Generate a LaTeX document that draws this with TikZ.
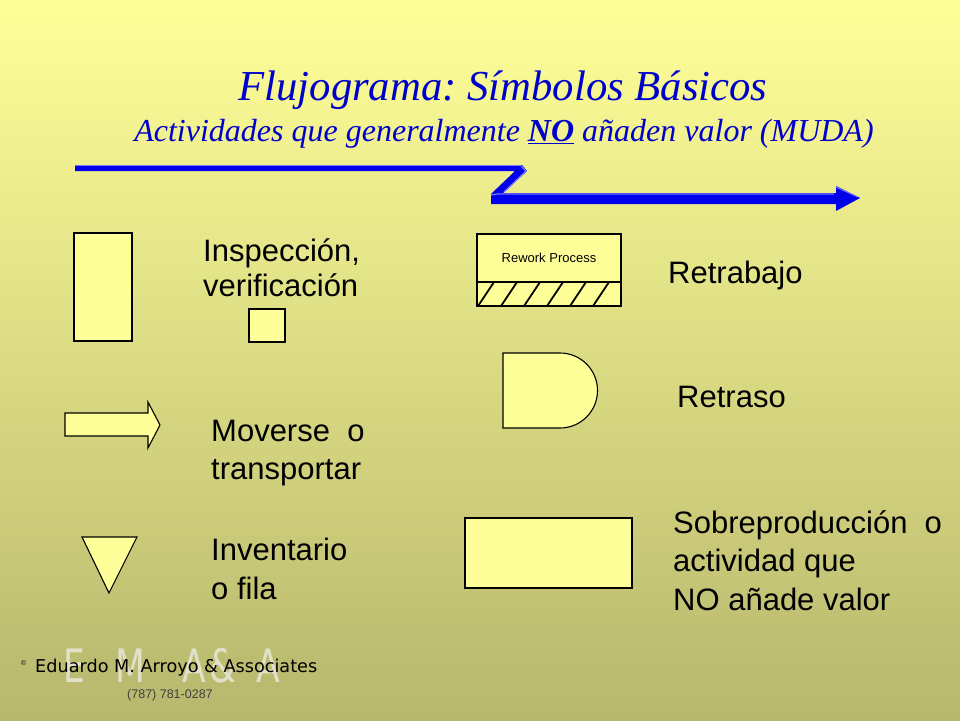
\documentclass[tikz,border=0pt]{standalone}
\usepackage{fontspec}
\setmainfont{Liberation Sans}
\newfontfamily\tnr{Liberation Serif}
\newfontfamily\casual{DejaVu Sans}
\usetikzlibrary{calc}
\definecolor{bgtop}{RGB}{255,255,153}
\definecolor{bgbot}{RGB}{183,183,110}
\definecolor{shapefill}{RGB}{255,255,153}
\definecolor{titleblue}{RGB}{0,0,204}
\definecolor{arrowblue}{RGB}{0,0,235}
\definecolor{arrowlight}{RGB}{120,120,255}
\definecolor{logogrey}{RGB}{232,232,218}
\tikzset{
  sym/.style={draw=black, line width=1.1pt, fill=shapefill, inner sep=0pt},
  lbl/.style={anchor=base west, inner sep=0pt, align=left, text=black,
     font=\fontsize{31}{35}\selectfont},
}
\frenchspacing
\begin{document}
\begin{tikzpicture}[x=1pt,y=-1pt]
\useasboundingbox (0,0) rectangle (960,720);
\shade[top color=bgtop, bottom color=bgbot] (0,0) rectangle (960,720);

% titles
\node[anchor=base, inner sep=0pt, text=titleblue,
      font=\tnr\itshape\fontsize{42.7}{48}\selectfont\frenchspacing] (title) at (503,100)
      {Flujograma: Símbolos Básicos};
\node[anchor=base, inner sep=0pt, text=titleblue,
      font=\tnr\itshape\fontsize{32}{38}\selectfont] (subtitle) at (504,141)
      {Actividades que generalmente \underline{\bfseries NO} añaden valor (MUDA)};

% blue zigzag arrow
\coordinate (a1) at (75,168);
\coordinate (a2) at (523,168);
\coordinate (a3) at (494,197);
\coordinate (a4) at (836,198);
\coordinate (tip) at (860,198);
\fill[arrowblue] (75,165) -- (522,165) -- (527,171) -- (503,193) -- (836,193)
   -- (836,186) -- (860,198) -- (836,211) -- (836,204) -- (491,204) -- (491,194)
   -- (515,171) -- (75,171) -- cycle;
\draw[arrowlight, line width=1.2pt] (75,165.5) -- (521,165.5);
\draw[arrowlight, line width=1.2pt] (521,166) -- (526,171) -- (504,192);
\draw[arrowlight, line width=1.2pt] (491,195) -- (497,194) -- (834,194);
\draw[arrowlight, line width=1pt] (836,187) -- (858,197);

% left column symbols
\node[sym, minimum width=58, minimum height=108] (insp) at (103,287) {};
\node[sym, minimum width=36, minimum height=33] (inspsq) at (267,325.5) {};
\draw[sym] (65,413) -- (148,413) -- (148,402) -- (160,425) -- (148,448)
   -- (148,436) -- (65,436) -- cycle;
\draw[sym] (82,537) -- (137,537) -- (109,593) -- cycle;

% rework box
\node[sym, line width=2pt, minimum width=144, minimum height=72] (rework) at (549,270) {};
\begin{scope}
\clip (477,282) rectangle (621,306);
\foreach \k in {0,...,5} {
  \draw[line width=1.8pt] ({478+23*\k},306) -- ({494+23*\k},282);
}
\end{scope}
\draw[line width=2pt] (477,282) -- (621,282);
\draw[line width=2pt] (477,234) rectangle (621,306);
\node[anchor=base, inner sep=0pt, font=\fontsize{13}{15}\selectfont] (reworktxt) at (549,262) {Rework Process};

% delay D shape
\draw[sym] (503,353) -- (560,353) arc[start angle=90, end angle=-90, radius=37.5pt]
   -- (503,428) -- cycle;

% overproduction rectangle
\node[sym, minimum width=167, minimum height=70] (sobre) at (548.5,553) {};

% labels (anchor = baseline of last line)
\node[lbl] (linsp) at (203,296) {Inspección,\\verificación};
\node[lbl, font=\fontsize{31}{38}\selectfont] (lmove) at (211,479) {Moverse\ \ o\\transportar};
\node[lbl, font=\fontsize{31}{39}\selectfont] (linv) at (211,599) {Inventario\\o fila};
\node[lbl] (lretra) at (668,283) {Retrabajo};
\node[lbl] (lretraso) at (677,407) {Retraso};
\node[lbl, font=\fontsize{31}{38.5}\selectfont] (lsobre) at (673,610)
   {Sobreproducción\ \ o\\actividad\ que\\NO añade\ valor};

% footer
\node[anchor=base west, inner sep=0pt, text=logogrey, opacity=0.85,
      font=\casual\fontsize{46}{50}\selectfont] (logo) at (63,682)
      {\scalebox{0.75}[1]{E\hspace{41pt}M\hspace{49pt}A\hspace{5pt}\&\hspace{27pt}A}};
\node[anchor=base west, inner sep=0pt, font=\fontsize{7}{8}\selectfont] (copy) at (21,665) {©};
\node[anchor=base west, inner sep=0pt] (author) at (35,672)
      {\resizebox{282pt}{!}{\casual\fontsize{17}{19}\selectfont Eduardo M. Arroyo \& Associates}};
\node[anchor=base west, inner sep=0pt, text=black!75, font=\fontsize{12.5}{14}\selectfont] (phone) at (127,698)
      {(787) 781-0287};
\end{tikzpicture}
\end{document}
